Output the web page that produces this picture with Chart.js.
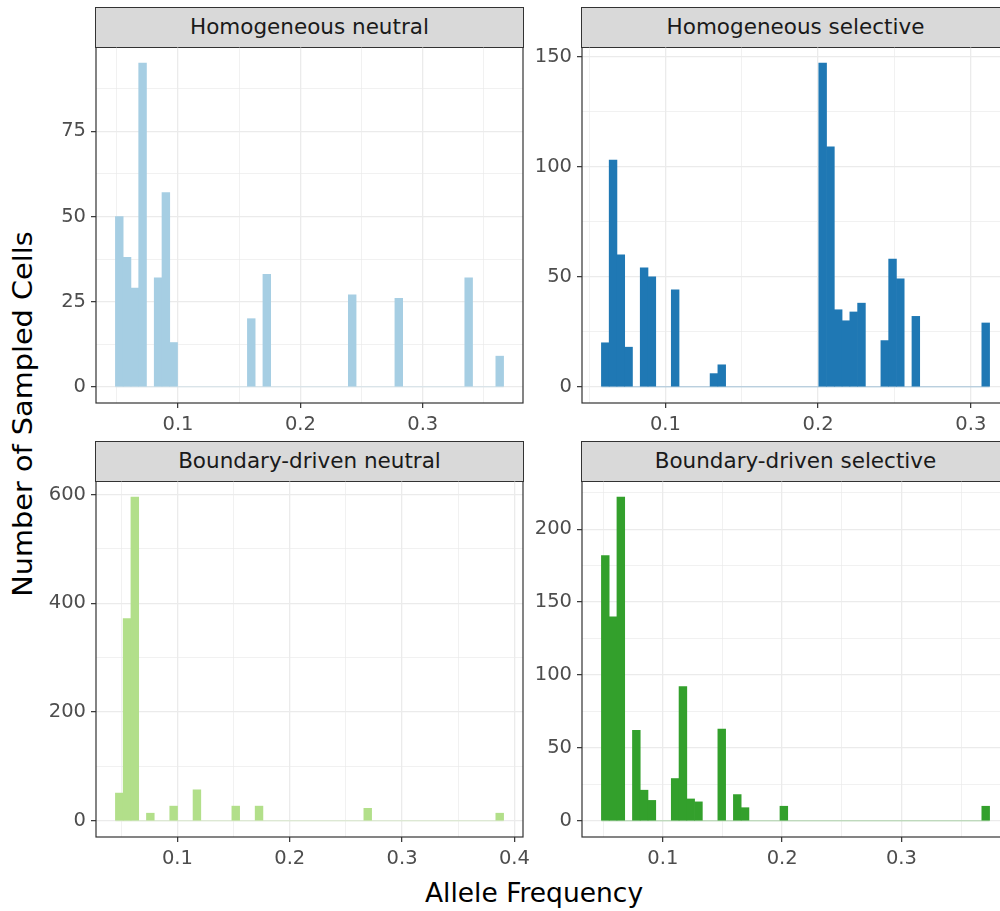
<!DOCTYPE html>
<html>
<head>
<meta charset="utf-8">
<script src="https://cdn.jsdelivr.net/npm/chart.js@4.4.1/dist/chart.umd.min.js"></script>
<style>
  html, body { margin: 0; padding: 0; background: #fff; overflow: hidden; }
  #fig { position: relative; width: 1000px; height: 911px; overflow: hidden; font-family: "DejaVu Sans", sans-serif; }
  #fig canvas { position: absolute; }
  .strip {
    position: absolute; box-sizing: border-box; height: 40.6px;
    background: #d9d9d9; border: 1.2px solid #333;
    color: #1a1a1a; font-size: 21.5px; line-height: 38px;
    text-align: center; white-space: nowrap; overflow: hidden;
  }
  .axis-title { position: absolute; color: #000; font-size: 26.5px; line-height: 1; white-space: nowrap; }
</style>
</head>
<body>
<div id="fig">
  <div class="axis-title" id="ytitle" style="left:23px; top:414px; transform: translate(-50%, -50%) rotate(-90deg) scaleX(1.085);">Number of Sampled Cells</div>
  <div class="axis-title" id="xtitle" style="left:534px; top:893px; transform: translate(-50%, -50%);">Allele Frequency</div>
</div>

<script>
"use strict";

/* ==========================================================
   DATA  (bin centres = allele frequency, counts = sampled cells)
   ========================================================== */
const panelTitles = ["Homogeneous neutral", "Homogeneous selective", "Boundary-driven neutral", "Boundary-driven selective"];
const panelColors = ["#a6cee3", "#1f78b4", "#b2df8a", "#33a02c"];

const homNeutralFreq   = [0.0520, 0.05835, 0.06469, 0.07104, 0.08373, 0.09007, 0.09642, 0.15987, 0.17256, 0.24235, 0.28042, 0.33753, 0.3629];
const homNeutralCells  = [50, 38, 29, 95, 32, 57, 13, 20, 33, 27, 26, 32, 9];

const homSelectFreq    = [0.0606, 0.06569, 0.07077, 0.07586, 0.08603, 0.09111, 0.10637, 0.13179, 0.13688, 0.20298,
                          0.20807, 0.21315, 0.21824, 0.22332, 0.22841, 0.24366, 0.24875, 0.25383, 0.2640, 0.30977];
const homSelectCells   = [20, 103, 60, 18, 54, 50, 44, 6, 10, 147, 109, 35, 30, 34, 38, 21, 58, 49, 32, 29];

const bndNeutralFreq   = [0.04827, 0.05518, 0.06209, 0.07591, 0.09664, 0.11737, 0.15192, 0.17265, 0.26939, 0.38686];
const bndNeutralCells  = [51, 372, 595, 14, 27, 57, 27, 27, 23, 14];

const bndSelectFreq    = [0.05175, 0.05826, 0.06477, 0.07778, 0.08429, 0.0908, 0.11032, 0.11683, 0.12334, 0.12985,
                          0.14937, 0.16239, 0.1689, 0.20143, 0.37064];
const bndSelectCells   = [182, 140, 222, 62, 21, 14, 29, 92, 15, 13, 63, 18, 9, 10, 10];

// axis breaks (major carry labels, minor only grid)
const xMajorA = [0.1, 0.2, 0.3];
const xMajorB = [0.1, 0.2, 0.3, 0.4];
const xMinor  = [0.05, 0.15, 0.25, 0.35];
const yMajorHN = [0, 25, 50, 75];          const yMinorHN = [12.5, 37.5, 62.5, 87.5];
const yMajorHS = [0, 50, 100, 150];        const yMinorHS = [25, 75, 125];
const yMajorBN = [0, 200, 400, 600];       const yMinorBN = [100, 300, 500];
const yMajorBS = [0, 50, 100, 150, 200];   const yMinorBS = [25, 75, 125, 175, 225];

/* ==========================================================
   LAYOUT
   ========================================================== */
const Y_AXIS_W = 80, X_AXIS_H = 40, PAD_R = 25;
const PANEL_W = 427, PANEL_H = 356;
const FONT = "'DejaVu Sans', sans-serif";

const panels = [
  { freq: homNeutralFreq, cells: homNeutralCells, xMajor: xMajorA, yMajor: yMajorHN, yMinor: yMinorHN, left: 96,  top: 47 },
  { freq: homSelectFreq,  cells: homSelectCells,  xMajor: xMajorA, yMajor: yMajorHS, yMinor: yMinorHS, left: 582, top: 47 },
  { freq: bndNeutralFreq, cells: bndNeutralCells, xMajor: xMajorB, yMajor: yMajorBN, yMinor: yMinorBN, left: 96,  top: 481 },
  { freq: bndSelectFreq,  cells: bndSelectCells,  xMajor: xMajorA, yMajor: yMajorBS, yMinor: yMinorBS, left: 582, top: 481 },
];

// panel border + the hairline ggplot leaves for empty bins
const panelFrame = {
  id: "panelFrame",
  beforeDatasetsDraw(chart, args, opts) {
    const { ctx, scales: { x, y } } = chart;
    const y0 = y.getPixelForValue(0);
    ctx.save();
    ctx.strokeStyle = opts.baseColor;
    ctx.lineWidth = 1;
    ctx.beginPath();
    ctx.moveTo(x.getPixelForValue(opts.lo), y0);
    ctx.lineTo(x.getPixelForValue(opts.hi), y0);
    ctx.stroke();
    ctx.restore();
  },
  afterDraw(chart) {
    const { ctx, chartArea: a } = chart;
    ctx.save();
    ctx.strokeStyle = "#333333";
    ctx.lineWidth = 1.2;
    ctx.strokeRect(a.left, a.top, a.right - a.left, a.bottom - a.top);
    ctx.restore();
  }
};

function hexAlpha(hex, a) {
  const n = parseInt(hex.slice(1), 16);
  return `rgba(${(n >> 16) & 255},${(n >> 8) & 255},${n & 255},${a})`;
}

function makePanel(p, i) {
  const fig = document.getElementById("fig");

  const strip = document.createElement("div");
  strip.className = "strip";
  strip.textContent = panelTitles[i];
  strip.style.left = (p.left - 0.6) + "px";
  strip.style.top = (p.top - 40) + "px";
  strip.style.width = (PANEL_W + 1.2) + "px";
  fig.appendChild(strip);

  const canvas = document.createElement("canvas");
  const cw = PANEL_W + Y_AXIS_W + PAD_R, ch = PANEL_H + X_AXIS_H;
  canvas.width = cw; canvas.height = ch;
  canvas.style.width = cw + "px"; canvas.style.height = ch + "px";
  canvas.style.left = (p.left - Y_AXIS_W) + "px";
  canvas.style.top = p.top + "px";
  fig.appendChild(canvas);

  // histogram extent + ggplot's 5% expansion
  const binW = Math.min(...p.freq.slice(1).map((v, k) => v - p.freq[k]));
  const lo = p.freq[0] - binW / 2, hi = p.freq[p.freq.length - 1] + binW / 2;
  const xPad = (hi - lo) * 0.05;
  const yTop = Math.max(...p.cells);

  const xTicks = [...xMinor, ...p.xMajor].filter(v => v >= lo - xPad && v <= hi + xPad).sort((a, b) => a - b);
  const yTicks = [...p.yMinor, ...p.yMajor].sort((a, b) => a - b);
  const isXMajor = v => p.xMajor.includes(v);
  const isYMajor = v => p.yMajor.includes(v);

  const tickFont = { family: FONT, size: 19.5 };

  new Chart(canvas, {
    type: "bar",
    data: {
      datasets: [{
        data: p.freq.map((f, k) => ({ x: f, y: p.cells[k] })),
        backgroundColor: panelColors[i],
        borderWidth: 0,
        categoryPercentage: 1,
        barPercentage: 1,
      }]
    },
    options: {
      responsive: false,
      animation: false,
      layout: { padding: { left: 0, top: 0, right: PAD_R, bottom: 0 } },
      plugins: {
        legend: { display: false },
        tooltip: { enabled: false },
        panelFrame: { lo, hi, baseColor: hexAlpha(panelColors[i], 0.35) },
      },
      scales: {
        x: {
          type: "linear", offset: false, bounds: "data",
          min: lo - xPad, max: hi + xPad,
          grid: {
            offset: false,
            color: "#ebebeb",
            lineWidth: ctx => isXMajor(ctx.tick.value) ? 1.3 : 0.7,
            drawTicks: true, tickLength: 5, tickWidth: 1.2,
            tickColor: ctx => isXMajor(ctx.tick.value) ? "#333333" : "rgba(0,0,0,0)",
          },
          border: { display: false },
          ticks: {
            autoSkip: false, maxRotation: 0, padding: 5, color: "#4d4d4d", font: tickFont,
            callback: v => isXMajor(v) ? String(v) : "",
          },
          afterBuildTicks: s => { s.ticks = xTicks.map(v => ({ value: v })); },
          afterFit: s => { s.height = X_AXIS_H; s.paddingLeft = 0; s.paddingRight = 0; },
        },
        y: {
          type: "linear", bounds: "data",
          min: -0.05 * yTop, max: 1.05 * yTop,
          grid: {
            color: "#ebebeb",
            lineWidth: ctx => isYMajor(ctx.tick.value) ? 1.3 : 0.7,
            drawTicks: true, tickLength: 5, tickWidth: 1.2,
            tickColor: ctx => isYMajor(ctx.tick.value) ? "#333333" : "rgba(0,0,0,0)",
          },
          border: { display: false },
          ticks: {
            autoSkip: false, padding: 5, color: "#4d4d4d", font: tickFont,
            callback: v => isYMajor(v) ? String(v) : "",
          },
          afterBuildTicks: s => { s.ticks = yTicks.map(v => ({ value: v })); },
          afterFit: s => { s.width = Y_AXIS_W; s.paddingTop = 0; s.paddingBottom = 0; },
        }
      }
    },
    plugins: [panelFrame]
  });
}

panels.forEach(makePanel);
</script>
</body>
</html>
